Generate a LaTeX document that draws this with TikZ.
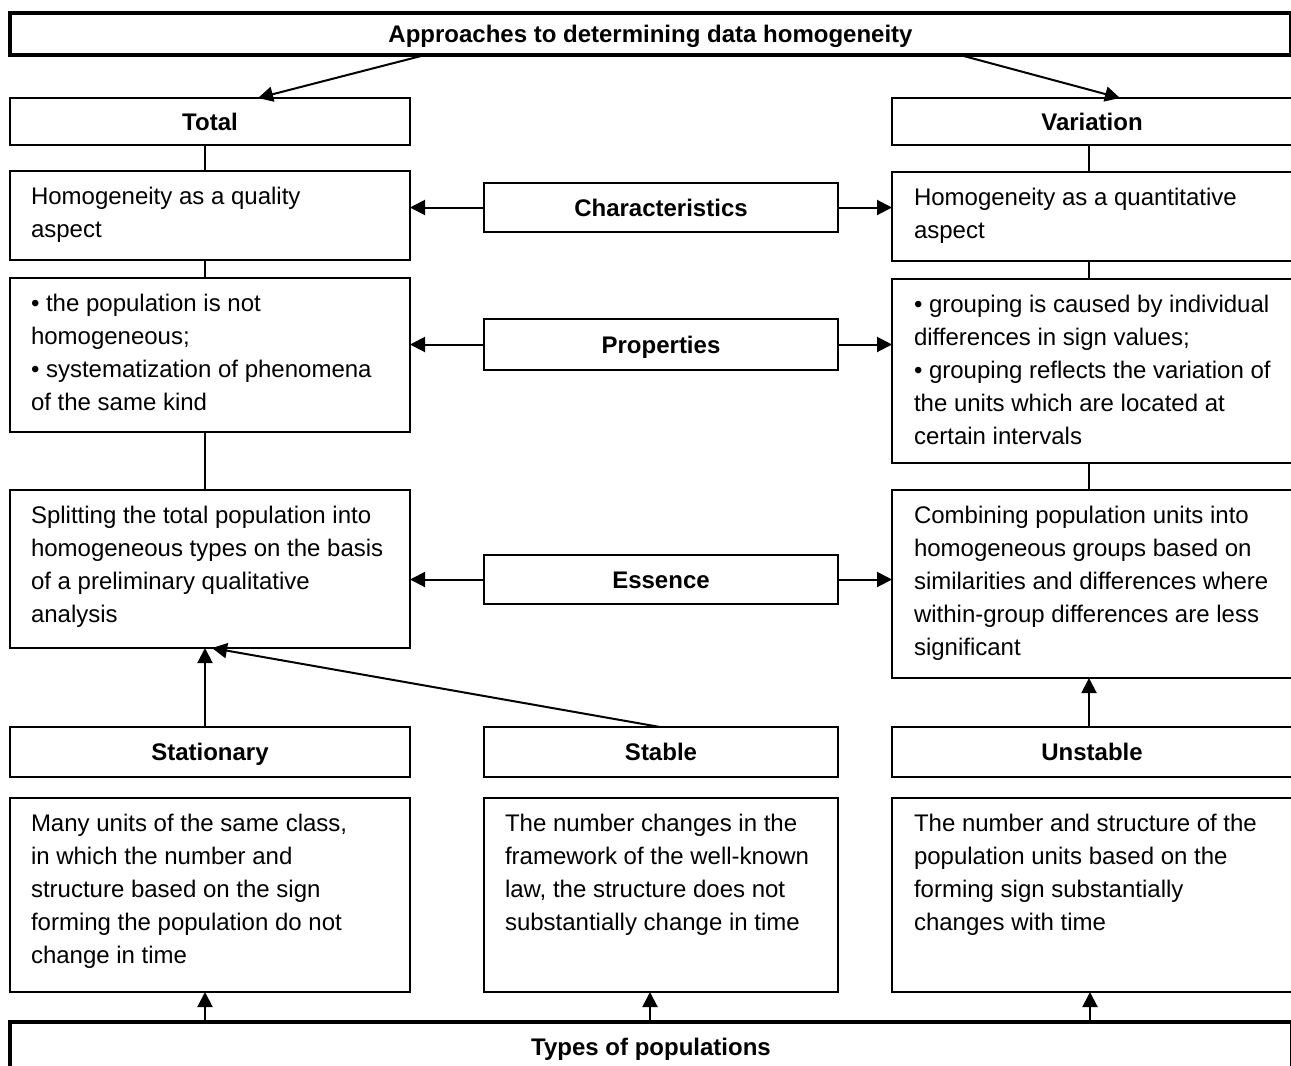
\documentclass[tikz,border=0pt]{standalone}
\usepackage{fontspec}
\setmainfont{Liberation Sans}
\usetikzlibrary{arrows.meta}
\begin{document}
\begin{tikzpicture}[x=1pt,y=-1pt,
  box/.style={draw, line width=2.5pt, anchor=north west, inner sep=0pt, outer sep=0pt,
    text height=17pt, text depth=0pt,
    font=\fontsize{24pt}{33pt}\selectfont\bfseries},
  bigbox/.style={box, line width=4pt},
  txt/.style={anchor=north west, inner sep=0pt, outer sep=0pt, align=left,
    font=\fontsize{24pt}{33pt}\selectfont},
  conn/.style={line width=2pt},
  arr/.style={line width=2pt, -{Triangle[length=15pt,width=15pt]}}]
\clip (0,0) rectangle (1291,1066);
% top
\node[bigbox, minimum width=1281pt, minimum height=42pt] (top) at (10,13) {Approaches to determining data homogeneity};
% row 1
\node[box, minimum width=400pt, minimum height=47pt] (total) at (10,98) {Total};
\node[box, minimum width=400pt, minimum height=47pt] (var) at (892,98) {Variation};
% row 2
\node[box, minimum width=400pt, minimum height=89pt] (qual) at (10,171) {};
\node[txt] at ([xshift=21pt,yshift=-16pt]qual.north west) {Homogeneity as a quality\\aspect};
\node[box, minimum width=354pt, minimum height=49pt] (chars) at (484,183) {Characteristics};
\node[box, minimum width=400pt, minimum height=89pt] (quant) at (892,172) {};
\node[txt] at ([xshift=22pt,yshift=-16pt]quant.north west) {Homogeneity as a quantitative\\aspect};
% row 3
\node[box, minimum width=400pt, minimum height=154pt] (propl) at (10,278) {};
\node[txt] at ([xshift=21pt,yshift=-16pt]propl.north west) {• the population is not\\homogeneous;\\• systematization of phenomena\\of the same kind};
\node[box, minimum width=354pt, minimum height=51pt] (props) at (484,319) {Properties};
\node[box, minimum width=400pt, minimum height=184pt] (propr) at (892,279) {};
\node[txt] at ([xshift=22pt,yshift=-16pt]propr.north west) {• grouping is caused by individual\\differences in sign values;\\• grouping reflects the variation of\\the units which are located at\\certain intervals};
% row 4
\node[box, minimum width=400pt, minimum height=158pt] (split) at (10,490) {};
\node[txt] at ([xshift=21pt,yshift=-16pt]split.north west) {Splitting the total population into\\homogeneous types on the basis\\of a preliminary qualitative\\analysis};
\node[box, minimum width=354pt, minimum height=49pt] (ess) at (484,555) {Essence};
\node[box, minimum width=400pt, minimum height=188pt] (comb) at (892,490) {};
\node[txt] at ([xshift=22pt,yshift=-16pt]comb.north west) {Combining population units into\\homogeneous groups based on\\similarities and differences where\\within-group differences are less\\significant};
% row 5
\node[box, minimum width=400pt, minimum height=50pt] (stat) at (10,727) {Stationary};
\node[box, minimum width=354pt, minimum height=50pt] (stab) at (484,727) {Stable};
\node[box, minimum width=400pt, minimum height=50pt] (unst) at (892,727) {Unstable};
% row 6
\node[box, minimum width=400pt, minimum height=194pt] (many) at (10,798) {};
\node[txt] at ([xshift=21pt,yshift=-16pt]many.north west) {Many units of the same class,\\in which the number and\\structure based on the sign\\forming the population do not\\change in time};
\node[box, minimum width=354pt, minimum height=194pt] (numch) at (484,798) {};
\node[txt] at ([xshift=21pt,yshift=-16pt]numch.north west) {The number changes in the\\framework of the well-known\\law, the structure does not\\substantially change in time};
\node[box, minimum width=400pt, minimum height=194pt] (numst) at (892,798) {};
\node[txt] at ([xshift=22pt,yshift=-16pt]numst.north west) {The number and structure of the\\population units based on the\\forming sign substantially\\changes with time};
% bottom
\node[bigbox, minimum width=1282pt, minimum height=50pt] (types) at (10,1022) {Types of populations};
% connectors
\draw[arr] ([xshift=415pt]top.south west) -- ([xshift=248pt]total.north west);
\draw[arr] ([xshift=950pt]top.south west) -- ([xshift=228pt]var.north west);
\draw[conn] ([xshift=195pt]total.south west) -- ([xshift=195pt]qual.north west);
\draw[conn] ([xshift=195pt]qual.south west) -- ([xshift=195pt]propl.north west);
\draw[conn] ([xshift=195pt]propl.south west) -- ([xshift=195pt]split.north west);
\draw[conn] ([xshift=197pt]var.south west) -- ([xshift=197pt]quant.north west);
\draw[conn] ([xshift=197pt]quant.south west) -- ([xshift=197pt]propr.north west);
\draw[conn] ([xshift=197pt]propr.south west) -- ([xshift=197pt]comb.north west);
\draw[arr] (chars.west) -- (chars.west -| qual.east);
\draw[arr] (chars.east) -- (chars.east -| quant.west);
\draw[arr] (props.west) -- (props.west -| propl.east);
\draw[arr] (props.east) -- (props.east -| propr.west);
\draw[arr] (ess.west) -- (ess.west -| split.east);
\draw[arr] (ess.east) -- (ess.east -| comb.west);
\draw[arr] ([xshift=195pt]stat.north west) -- ([xshift=195pt]split.south west);
\draw[arr] ([xshift=176pt]stab.north west) -- ([xshift=202pt]split.south west);
\draw[arr] ([xshift=197pt]unst.north west) -- ([xshift=197pt]comb.south west);
\draw[arr] ([xshift=195pt]types.north west) -- ([xshift=195pt]many.south west);
\draw[arr] ([xshift=640pt]types.north west) -- ([xshift=166pt]numch.south west);
\draw[arr] ([xshift=1080pt]types.north west) -- ([xshift=198pt]numst.south west);
\end{tikzpicture}
\end{document}
